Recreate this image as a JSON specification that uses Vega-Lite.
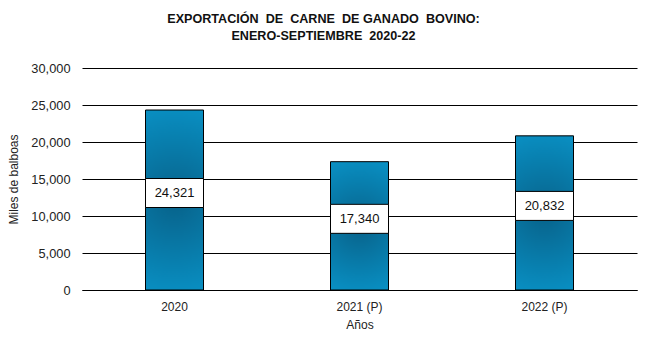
{
  "$schema": "https://vega.github.io/schema/vega-lite/v6.json",
  "autosize": "none",
  "width": 555,
  "height": 222,
  "padding": {"left": 82, "top": 68, "right": 26, "bottom": 61},
  "background": "white",
  "title": {
    "text": ["EXPORTACIÓN\u00a0 DE\u00a0 CARNE\u00a0 DE GANADO\u00a0 BOVINO:", "ENERO-SEPTIEMBRE\u00a0 2020-22"],
    "font": "Liberation Sans",
    "fontSize": 12.6,
    "fontWeight": "bold",
    "color": "#111",
    "lineHeight": 17,
    "anchor": "middle",
    "dx": -36,
    "offset": 19
  },
  "data": {
    "values": [
      {"anio": "2020", "valor": 24321},
      {"anio": "2021 (P)", "valor": 17340},
      {"anio": "2022 (P)", "valor": 20832}
    ]
  },
  "transform": [{"calculate": "datum.valor / 2", "as": "medio"}],
  "config": {
    "view": {"stroke": null},
    "font": "Liberation Sans",
    "axisY": {
      "title": "Miles de balboas",
      "values": [0, 5000, 10000, 15000, 20000, 25000, 30000],
      "format": ",.0f",
      "labelOverlap": false,
      "grid": true,
      "gridColor": "black",
      "gridOpacity": 1,
      "gridWidth": 1,
      "domain": false,
      "ticks": false,
      "labelPadding": 12,
      "labelFontSize": 12.8,
      "labelColor": "#222",
      "titleFontSize": 12,
      "titleFontWeight": "normal",
      "titleColor": "#222",
      "titlePadding": 10
    }
  },
  "encoding": {
    "x": {
      "field": "anio",
      "type": "nominal",
      "sort": null,
      "scale": {"paddingInner": 0, "paddingOuter": 0},
      "axis": {
        "title": "Años",
        "labelAngle": 0,
        "ticks": false,
        "labelPadding": 11,
        "labelFontSize": 12,
        "labelColor": "#222",
        "titleFontSize": 12,
        "titleFontWeight": "normal",
        "titleColor": "#222",
        "titlePadding": 7,
        "domainColor": "black",
        "domainWidth": 1
      }
    }
  },
  "layer": [
    {
      "mark": {
        "type": "bar",
        "size": 58,
        "stroke": "black",
        "strokeWidth": 1,
        "color": {
          "gradient": "radial",
          "x1": 0.5, "y1": 0.5, "r1": 0,
          "x2": 0.5, "y2": 0.5, "r2": 0.75,
          "stops": [
            {"offset": 0, "color": "#07628a"},
            {"offset": 1, "color": "#0aa2da"}
          ]
        }
      },
      "encoding": {
        "y": {
          "field": "valor",
          "type": "quantitative",
          "title": "Miles de balboas",
          "scale": {"domain": [0, 30000], "nice": false},
          "axis": {"format": ",.0f", "title": "Miles de balboas"}
        }
      }
    },
    {
      "mark": {
        "type": "point",
        "shape": "M-1,-0.5L1,-0.5L1,0.5L-1,0.5Z",
        "size": 3364,
        "filled": true,
        "fill": "white",
        "stroke": "black",
        "strokeWidth": 1,
        "opacity": 1,
        "yOffset": -7
      },
      "encoding": {
        "y": {"field": "medio", "type": "quantitative", "title": "Miles de balboas", "axis": {"format": ",.0f", "title": "Miles de balboas"}}
      }
    },
    {
      "mark": {
        "type": "text",
        "fontSize": 13,
        "color": "#111",
        "baseline": "middle",
        "yOffset": -7
      },
      "encoding": {
        "y": {"field": "medio", "type": "quantitative", "title": "Miles de balboas", "axis": {"format": ",.0f", "title": "Miles de balboas"}},
        "text": {"field": "valor", "type": "quantitative", "format": ","}
      }
    }
  ]
}
